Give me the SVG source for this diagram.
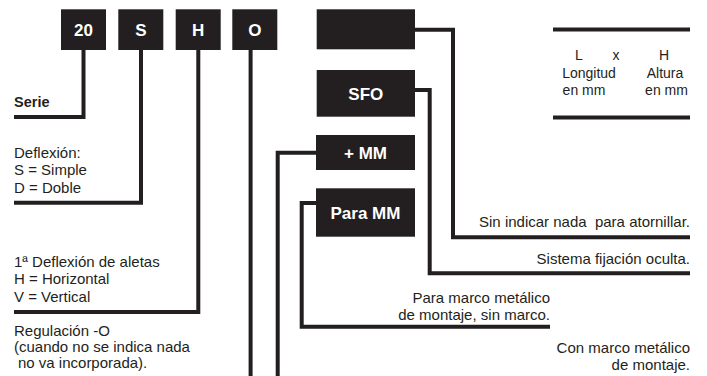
<svg xmlns="http://www.w3.org/2000/svg" width="707" height="376" viewBox="0 0 707 376">
<style>
.box{fill:#231f20}
.bt{font-family:"Liberation Sans",Arial,sans-serif;font-weight:bold;font-size:17px;fill:#ffffff;text-anchor:middle}
.t{font-family:"Liberation Sans",Arial,sans-serif;font-size:15px;fill:#231f20}
.d{font-size:14px}
.tb{font-family:"Liberation Sans",Arial,sans-serif;font-size:14.5px;font-weight:bold;fill:#231f20}
.r{text-anchor:end}
.m{text-anchor:middle}
.ln{fill:none;stroke:#231f20;stroke-width:4;stroke-linejoin:miter;stroke-linecap:butt}
</style>
<rect width="707" height="376" fill="#ffffff"/>
<g id="connectors">
<polyline class="ln" points="83.5,50 83.5,117 14,117"/>
<polyline class="ln" points="141,50 141,202.7 14,202.7"/>
<polyline class="ln" points="198.3,50 198.3,312 14,312"/>
<polyline class="ln" points="250.6,50 250.6,376"/>
<polyline class="ln" points="415,29.7 453,29.7 453,237.3 690,237.3"/>
<polyline class="ln" points="415,90 429.7,90 429.7,273.3 690,273.3"/>
<polyline class="ln" points="316,152.7 277.7,152.7 277.7,376"/>
<polyline class="ln" points="316,203 301.7,203 301.7,326.7 550,326.7"/>
</g>
<g id="node-20"><rect class="box" x="61" y="9.3" width="45" height="40.7"/><text class="bt" x="83.5" y="36">20</text></g>
<g id="node-S"><rect class="box" x="118.3" y="9.3" width="45" height="40.7"/><text class="bt" x="140.8" y="36">S</text></g>
<g id="node-H"><rect class="box" x="175.7" y="9.3" width="45" height="40.7"/><text class="bt" x="198.2" y="36">H</text></g>
<g id="node-O"><rect class="box" x="232.3" y="9.3" width="45" height="40.7"/><text class="bt" x="254.8" y="36">O</text></g>
<g id="node-blank"><rect class="box" x="316.7" y="9.3" width="98.3" height="40"/></g>
<g id="node-SFO"><rect class="box" x="316.7" y="70" width="98.3" height="46.7"/><text class="bt" x="365.8" y="100">SFO</text></g>
<g id="node-MM"><rect class="box" x="316" y="135" width="99" height="35"/><text class="bt" x="365.5" y="159">+ MM</text></g>
<g id="node-ParaMM"><rect class="box" x="316" y="188.3" width="99" height="48.4"/><text class="bt" x="365.5" y="219">Para MM</text></g>
<g id="dims">
<line class="ln" x1="553" y1="29.5" x2="690" y2="29.5"/>
<line class="ln" x1="553" y1="117.5" x2="690" y2="117.5"/>
<text class="t d m" x="579" y="60">L</text>
<text class="t d m" x="616" y="60">x</text>
<text class="t d m" x="664" y="60">H</text>
<text class="t d m" x="589" y="77.5">Longitud</text>
<text class="t d m" x="665" y="77.5">Altura</text>
<text class="t d m" x="584" y="94.5">en mm</text>
<text class="t d m" x="666.5" y="94.5">en mm</text>
</g>
<g id="labels-left">
<text class="tb" x="14" y="106.5">Serie</text>
<text class="t" x="14" y="157.5">Deflexión:</text>
<text class="t" x="14" y="175">S = Simple</text>
<text class="t" x="14" y="192.5">D = Doble</text>
<text class="t" x="14" y="266.5">1ª Deflexión de aletas</text>
<text class="t" x="14" y="284">H = Horizontal</text>
<text class="t" x="14" y="301.5">V = Vertical</text>
<text class="t" x="14" y="336">Regulación -O</text>
<text class="t" x="14" y="352">(cuando no se indica nada</text>
<text class="t" x="18" y="368">no va incorporada).</text>
</g>
<g id="labels-right">
<text class="t r" x="690" y="227" xml:space="preserve">Sin indicar nada  para atornillar.</text>
<text class="t r" x="690" y="264">Sistema fijación oculta.</text>
<text class="t r" x="550" y="303">Para marco metálico</text>
<text class="t r" x="550" y="319.5">de montaje, sin marco.</text>
<text class="t r" x="690" y="353">Con marco metálico</text>
<text class="t r" x="690" y="369.5">de montaje.</text>
</g>
</svg>
